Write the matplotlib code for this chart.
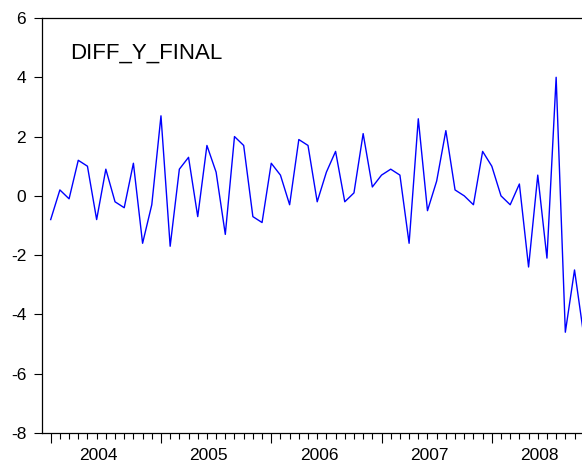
import matplotlib.pyplot as plt
from matplotlib.transforms import blended_transform_factory

plt.rcParams['font.family'] = ['Liberation Sans', 'DejaVu Sans']

# monthly series, 2004M01 onwards
diff_y_final = [-0.8, 0.2, -0.1, 1.2, 1.0, -0.8, 0.9, -0.2, -0.4, 1.1, -1.6, -0.3,
                2.7, -1.7, 0.9, 1.3, -0.7, 1.7, 0.8, -1.3, 2.0, 1.7, -0.7, -0.9,
                1.1, 0.7, -0.3, 1.9, 1.7, -0.2, 0.8, 1.5, -0.2, 0.1, 2.1, 0.3,
                0.7, 0.9, 0.7, -1.6, 2.6, -0.5, 0.5, 2.2, 0.2, 0.0, -0.3, 1.5,
                1.0, 0.0, -0.3, 0.4, -2.4, 0.7, -2.1, 4.0, -4.6, -2.5, -4.7]
years = ['2004', '2005', '2006', '2007', '2008']
y_ticks = [-8, -6, -4, -2, 0, 2, 4, 6]

months = list(range(len(diff_y_final)))

fig = plt.figure(figsize=(5.82, 4.70), dpi=100)
ax = fig.add_axes([41.5 / 582, 37 / 470, 551.4 / 582, 415 / 470])

ax.plot(months, diff_y_final, color='#0000ff', linewidth=1.0)

ax.set_xlim(-1, 59)
ax.set_ylim(-8, 6)
ax.set_yticks(y_ticks)
ax.set_yticklabels([str(v) for v in y_ticks], fontsize=12.5)
ax.tick_params(axis='y', direction='out', length=6, width=0.8, pad=5)

# long ticks at the start of each year, short ticks every month
ax.set_xticks([12 * i for i in range(len(years))])
ax.set_xticklabels([])
ax.set_xticks(months, minor=True)
ax.tick_params(axis='x', which='major', direction='out', length=7, width=0.8)
ax.tick_params(axis='x', which='minor', direction='out', length=4, width=0.8)

trans = blended_transform_factory(ax.transData, ax.transAxes)
for i, yr in enumerate(years):
    ax.text(12 * i + 5.2, -0.037, yr, transform=trans, ha='center', va='top',
            fontsize=12.5)

for sp in ax.spines.values():
    sp.set_linewidth(0.9)

ax.text(0.052, 0.915, 'DIFF_Y_FINAL', transform=ax.transAxes, fontsize=16,
        ha='left', va='center')

fig.savefig('out.png', dpi=100)
